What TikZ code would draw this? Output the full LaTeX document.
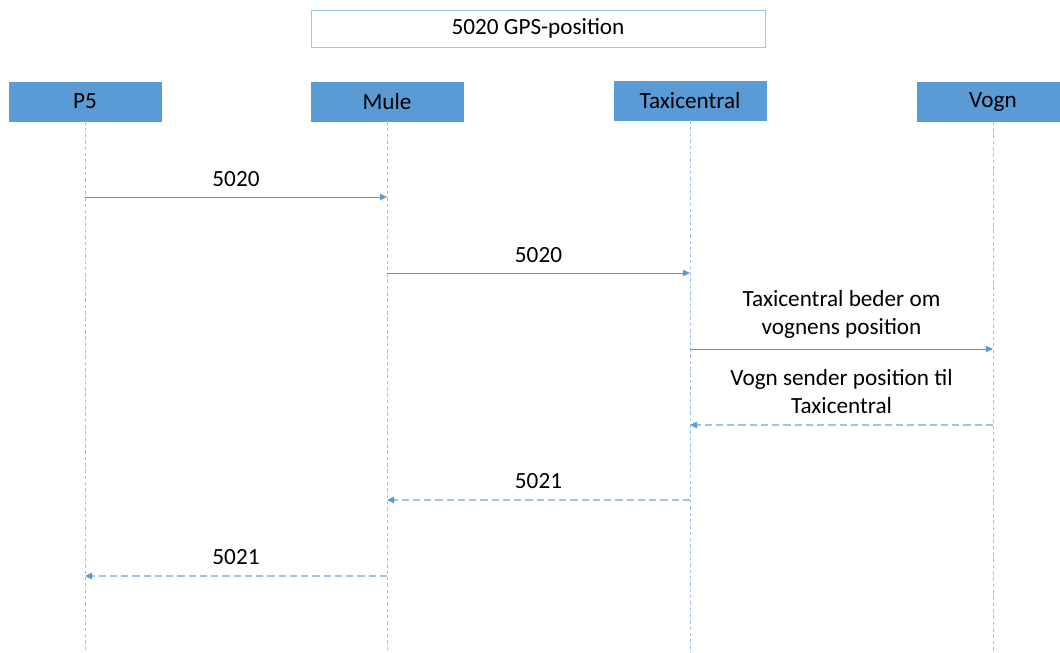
\documentclass[tikz,border=0pt]{standalone}
\usepackage{fontspec}
\setmainfont{Carlito}
\usetikzlibrary{arrows.meta}

\definecolor{aktorblaa}{HTML}{5B9BD5}
\definecolor{lysblaa}{HTML}{9DC3E6}

\tikzset{
  aktor/.style={draw=aktorblaa, fill=aktorblaa, minimum width=3.8cm, minimum height=0.975cm, inner sep=0pt, font=\fontsize{16.5}{20}\selectfont},
  titel/.style={draw=lysblaa, fill=white, minimum width=11.35cm, minimum height=0.925cm, inner sep=0pt, font=\fontsize{16.5}{20}\selectfont},
  livslinje/.style={draw=lysblaa, thin, dash pattern=on 2.5pt off 2pt},
  besked/.style={draw=aktorblaa, line width=0.7pt, ->},
  svar/.style={draw=lysblaa, line width=1.1pt, dash pattern=on 5pt off 3pt, ->},
  tekst/.style={font=\fontsize{16.5}{20}\selectfont, align=center, above=4pt, midway}
}

\begin{document}
\begin{tikzpicture}[x=0.025cm, y=-0.025cm, >={Triangle[length=5pt,width=4.5pt,color=aktorblaa]}]
    \useasboundingbox (0,0) rectangle (1060,652);

    % Titel
    \node[titel] (titel) at (538,28.5) {5020 GPS-position};

    % Aktorer
    \node[aktor] (p5) at (85,101.5) {P5};
    \node[aktor] (mule) at (387,101.5) {Mule};
    \node[aktor] (taxi) at (690,100.5) {Taxicentral};
    \node[aktor] (vogn) at (993,102) {Vogn};

    % Livslinjer
    \foreach \a in {p5,mule,taxi,vogn}
        \draw[livslinje] (\a.south) -- (\a.south |- 0,652);

    % Beskedernes hoejder
    \coordinate (m1) at (0,197);
    \coordinate (m2) at (0,273);
    \coordinate (m3) at (0,349);
    \coordinate (m4) at (0,425);
    \coordinate (m5) at (0,500);
    \coordinate (m6) at (0,576);

    % Beskeder
    \draw[besked] (p5 |- m1) -- node[tekst] {5020} (mule |- m1);
    \draw[besked] (mule |- m2) -- node[tekst] {5020} (taxi |- m2);
    \draw[besked] (taxi |- m3) -- node[tekst] {Taxicentral beder om\\vognens position} (vogn |- m3);

    % Svar
    \draw[svar] (vogn |- m4) -- node[tekst] {Vogn sender position til\\Taxicentral} (taxi |- m4);
    \draw[svar] (taxi |- m5) -- node[tekst] {5021} (mule |- m5);
    \draw[svar] (mule |- m6) -- node[tekst] {5021} (p5 |- m6);

\end{tikzpicture}
\end{document}
